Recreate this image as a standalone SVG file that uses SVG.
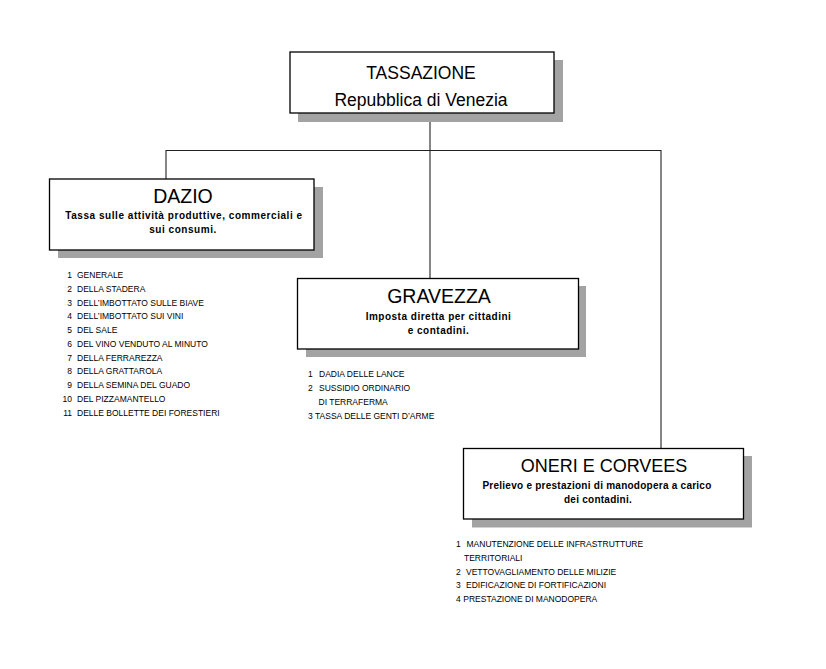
<svg xmlns="http://www.w3.org/2000/svg" width="826" height="669" viewBox="0 0 826 669">
<style>
  .shadow { fill: #a3a3a3; stroke: none; }
  .box { fill: #ffffff; stroke: #000000; stroke-width: 1.3; }
  .title { font-family: "Liberation Sans", Arial, sans-serif; fill: #000; text-anchor: middle; }
  .sub { font-family: "Liberation Sans", Arial, sans-serif; font-size: 10px; font-weight: bold; fill: #000; text-anchor: middle; }
  .list { font-family: "Liberation Sans", Arial, sans-serif; font-size: 8.5px; fill: #000; }
  .num { text-anchor: end; }
  .conn { stroke: #222; stroke-width: 1.1; fill: none; }
</style>
<rect width="826" height="669" fill="#ffffff"/>

<g id="connectors">
  <line class="conn" x1="430" y1="113" x2="430" y2="278"/>
  <line class="conn" x1="166" y1="150.5" x2="661" y2="150.5"/>
  <line class="conn" x1="166" y1="150" x2="166" y2="179"/>
  <line class="conn" x1="661" y1="150" x2="661" y2="448"/>
</g>

<g id="node-tassazione">
  <rect class="shadow" x="298" y="60" width="265" height="62"/>
  <rect class="box" x="290" y="52" width="264" height="61"/>
  <text class="title" x="421" y="79" font-size="17.5">TASSAZIONE</text>
  <text class="title" x="421" y="105.5" font-size="17.5">Repubblica di Venezia</text>
</g>

<g id="node-dazio">
  <rect class="shadow" x="58" y="187" width="265" height="71"/>
  <rect class="box" x="49.5" y="179" width="264.5" height="71"/>
  <text class="title" x="183" y="202.5" font-size="19.5">DAZIO</text>
  <text class="sub" x="184" y="219" letter-spacing="0.55">Tassa sulle attività produttive, commerciali e</text>
  <text class="sub" x="183" y="233" letter-spacing="0.55">sui consumi.</text>
</g>

<g id="list-dazio" class="list">
  <text class="num" x="72" y="278">1</text><text x="77" y="278">GENERALE</text>
  <text class="num" x="72" y="291.8">2</text><text x="77" y="291.8">DELLA STADERA</text>
  <text class="num" x="72" y="305.5">3</text><text x="77" y="305.5">DELL’IMBOTTATO SULLE BIAVE</text>
  <text class="num" x="72" y="319.3">4</text><text x="77" y="319.3">DELL’IMBOTTATO SUI VINI</text>
  <text class="num" x="72" y="333">5</text><text x="77" y="333">DEL SALE</text>
  <text class="num" x="72" y="346.8">6</text><text x="77" y="346.8">DEL VINO VENDUTO AL MINUTO</text>
  <text class="num" x="72" y="360.5">7</text><text x="77" y="360.5">DELLA FERRAREZZA</text>
  <text class="num" x="72" y="374.3">8</text><text x="77" y="374.3">DELLA GRATTAROLA</text>
  <text class="num" x="72" y="388">9</text><text x="77" y="388">DELLA SEMINA DEL GUADO</text>
  <text class="num" x="72" y="401.8">10</text><text x="77" y="401.8">DEL PIZZAMANTELLO</text>
  <text class="num" x="72" y="415.5">11</text><text x="77" y="415.5">DELLE BOLLETTE DEI FORESTIERI</text>
</g>

<g id="node-gravezza">
  <rect class="shadow" x="306" y="286" width="280" height="71"/>
  <rect class="box" x="297.5" y="278.5" width="281" height="70.5"/>
  <text class="title" x="439" y="302.5" font-size="19.5">GRAVEZZA</text>
  <text class="sub" x="438.5" y="320" letter-spacing="0.5">Imposta diretta per cittadini</text>
  <text class="sub" x="438.5" y="334" letter-spacing="0.5">e contadini.</text>
</g>

<g id="list-gravezza" class="list">
  <text x="308" y="377.3">1</text><text x="319" y="377.3">DADIA DELLE LANCE</text>
  <text x="308" y="391">2</text><text x="319" y="391">SUSSIDIO ORDINARIO</text>
  <text x="318.5" y="405">DI TERRAFERMA</text>
  <text x="308" y="419">3</text><text x="315" y="419">TASSA DELLE GENTI D’ARME</text>
</g>

<g id="node-oneri">
  <rect class="shadow" x="472" y="456" width="280" height="71.5"/>
  <rect class="box" x="463.5" y="448.5" width="280" height="70.5"/>
  <text class="title" x="604" y="471.8" font-size="18">ONERI E CORVEES</text>
  <text class="sub" x="597" y="489.3" letter-spacing="0.25">Prelievo e prestazioni di manodopera a carico</text>
  <text class="sub" x="598" y="503.3" letter-spacing="0.25">dei contadini.</text>
</g>

<g id="list-oneri" class="list">
  <text x="456" y="546.7">1</text><text x="466.5" y="546.7">MANUTENZIONE DELLE  INFRASTRUTTURE</text>
  <text x="464" y="560.7">TERRITORIALI</text>
  <text x="456" y="574.6">2</text><text x="466" y="574.6">VETTOVAGLIAMENTO DELLE MILIZIE</text>
  <text x="456" y="588.4">3</text><text x="466" y="588.4">EDIFICAZIONE DI FORTIFICAZIONI</text>
  <text x="456" y="602.2">4</text><text x="463.3" y="602.2">PRESTAZIONE DI MANODOPERA</text>
</g>
</svg>
